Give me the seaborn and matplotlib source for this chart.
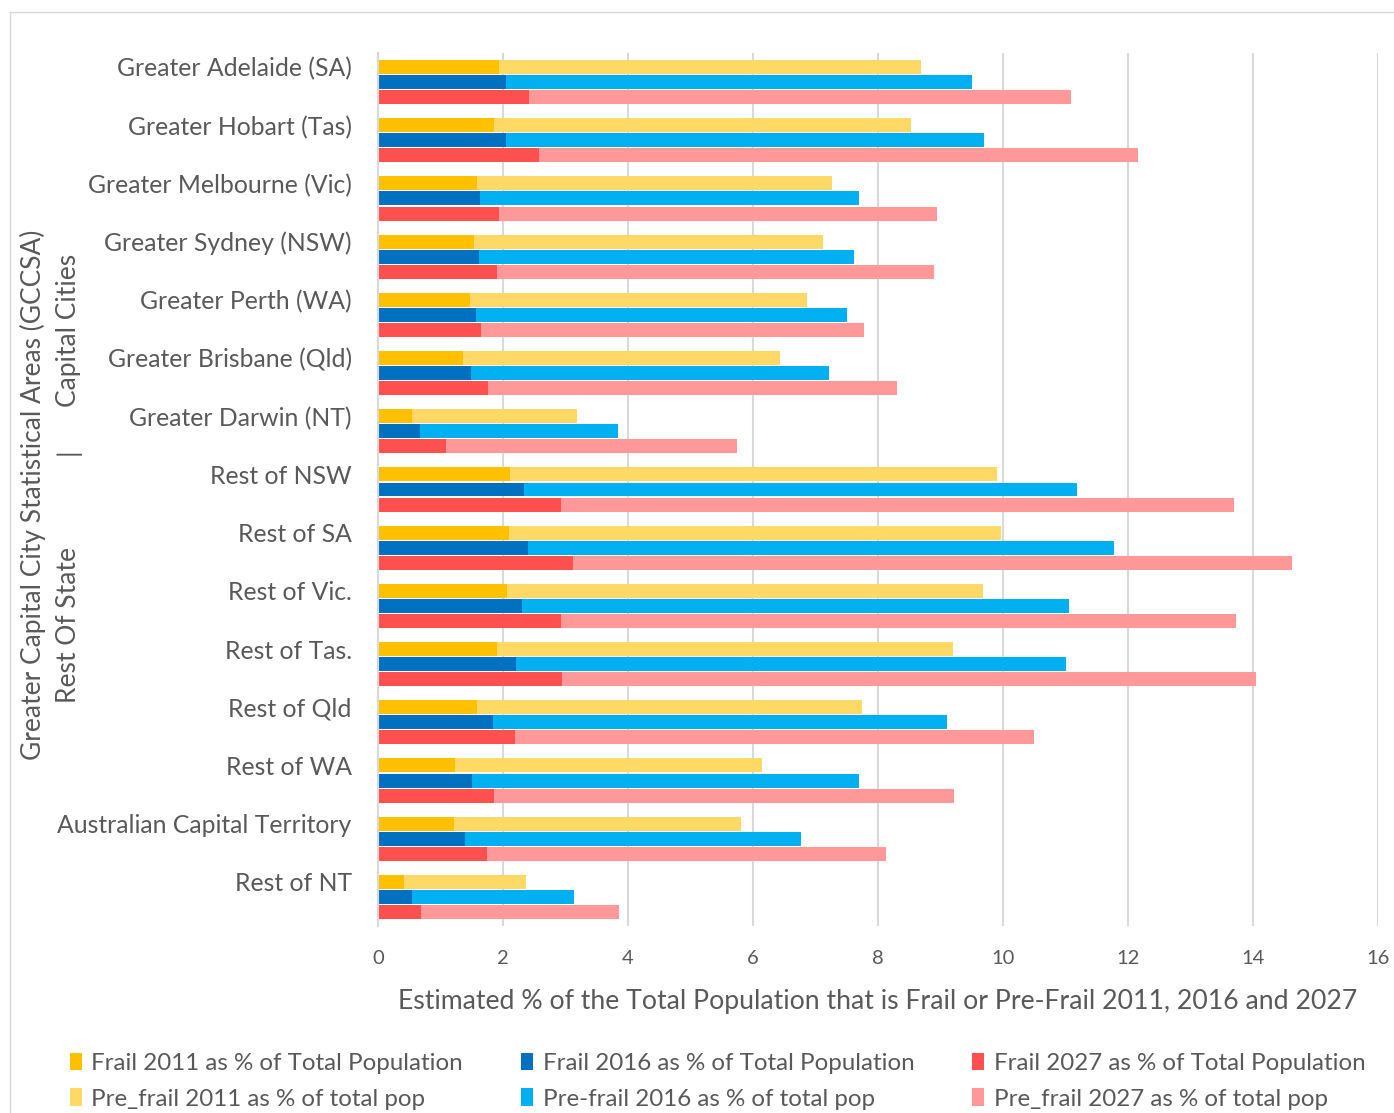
import numpy as np
import pandas as pd
import matplotlib.pyplot as plt
import matplotlib.transforms as mtransforms
import seaborn as sns
from matplotlib.patches import Patch
from matplotlib.lines import Line2D

sns.set_theme(style="white")
plt.rcParams['font.family'] = ['Lato', 'DejaVu Sans']

regions = ["Greater Adelaide (SA)", "Greater Hobart (Tas)", "Greater Melbourne (Vic)",
           "Greater Sydney (NSW)", "Greater Perth (WA)", "Greater Brisbane (Qld)",
           "Greater Darwin (NT)", "Rest of NSW", "Rest of SA", "Rest of Vic.",
           "Rest of Tas.", "Rest of Qld", "Rest of WA", "Australian Capital Territory",
           "Rest of NT"]

frail_2011 = [1.93, 1.86, 1.58, 1.54, 1.47, 1.36, 0.55, 2.11, 2.09, 2.07, 1.90, 1.58, 1.23, 1.22, 0.42]
prefrail_2011 = [6.75, 6.66, 5.69, 5.58, 5.40, 5.07, 2.63, 7.79, 7.88, 7.61, 7.30, 6.17, 4.92, 4.58, 1.94]
frail_2016 = [2.04, 2.04, 1.63, 1.62, 1.57, 1.48, 0.67, 2.34, 2.40, 2.30, 2.21, 1.84, 1.50, 1.39, 0.55]
prefrail_2016 = [7.46, 7.65, 6.06, 6.00, 5.94, 5.74, 3.17, 8.84, 9.37, 8.76, 8.80, 7.26, 6.19, 5.38, 2.59]
frail_2027 = [2.41, 2.58, 1.93, 1.90, 1.64, 1.76, 1.09, 2.93, 3.12, 2.93, 2.94, 2.19, 1.86, 1.74, 0.69]
prefrail_2027 = [8.68, 9.58, 7.02, 7.00, 6.13, 6.55, 4.66, 10.76, 11.50, 10.80, 11.10, 8.30, 7.35, 6.39, 3.17]

years = ["2011", "2016", "2027"]
frail_colors = ["#FFC000", "#0070C0", "#FF5050"]
pre_colors = ["#FFD966", "#00B0F0", "#FF9999"]
legend_labels = [
    "Frail 2011 as % of Total Population", "Pre_frail 2011 as % of total pop",
    "Frail 2016 as % of Total Population", "Pre-frail 2016 as % of total pop",
    "Frail 2027 as % of Total Population", "Pre_frail 2027 as % of total pop",
]

rows = []
for yr, fr, pf in zip(years, [frail_2011, frail_2016, frail_2027],
                      [prefrail_2011, prefrail_2016, prefrail_2027]):
    for reg, f, p in zip(regions, fr, pf):
        rows.append({"region": reg, "year": yr, "frail": f, "total": f + p})
df = pd.DataFrame(rows)

fig = plt.figure(figsize=(13.94, 11.13), dpi=100)
ax = fig.add_axes([0.2712, 0.168, 0.7174, 0.7844])

# pre-frail drawn as full length, frail drawn on top of it (stacked look)
for ycol, pal in [("total", pre_colors), ("frail", frail_colors)]:
    sns.barplot(data=df, y="region", x=ycol, hue="year", order=regions, hue_order=years,
                palette=pal, orient="h", width=0.775, gap=0.07, errorbar=None,
                legend=False, ax=ax, saturation=1, edgecolor="none")

ax.set_xlim(0, 16)
ax.set_ylim(14.5, -0.5)
ax.set_xticks(np.arange(0, 17, 2))
ax.xaxis.grid(True, color="#d9d9d9", linewidth=1.5)
ax.set_axisbelow(True)
for s in ["top", "right", "bottom"]:
    ax.spines[s].set_visible(False)
ax.spines["left"].set_color("#d9d9d9")
ax.spines["left"].set_linewidth(1.5)
ax.tick_params(axis="both", length=0, colors="#595959")
ax.tick_params(axis="y", labelsize=17.8, pad=19)
ax.tick_params(axis="x", labelsize=14.5, pad=17)
# category labels sit level with the top bar of each group
offset = mtransforms.ScaledTranslation(0, 15 / 100, fig.dpi_scale_trans)
for lbl in ax.get_yticklabels():
    lbl.set_transform(lbl.get_transform() + offset)
ax.set_ylabel("")
ax.set_xlabel("Estimated % of the Total Population that is Frail or Pre-Frail 2011, 2016 and 2027",
              fontsize=19.2, color="#595959", labelpad=16)

fig.text(0.0237, 0.555, "Greater Capital City Statistical Areas (GCCSA)", rotation=90,
         ha="center", va="center", fontsize=19, color="#595959")
fig.text(0.0488, 0.7035, "Capital Cities", rotation=90, ha="center", va="center",
         fontsize=19, color="#595959")
fig.text(0.0488, 0.594, "|", rotation=90, ha="center", va="center",
         fontsize=19, color="#595959")
fig.text(0.0488, 0.4385, "Rest Of State", rotation=90, ha="center", va="center",
         fontsize=19, color="#595959")

handle_colors = [frail_colors[0], pre_colors[0], frail_colors[1], pre_colors[1],
                 frail_colors[2], pre_colors[2]]
handles = [Patch(facecolor=c, edgecolor="none") for c in handle_colors]
leg = fig.legend(handles, legend_labels, ncol=3, loc="upper left",
                 bbox_to_anchor=(0.043, 0.063), frameon=False, fontsize=17.4,
                 handlelength=0.5, handleheight=0.75, handletextpad=0.4,
                 columnspacing=2.4, labelspacing=0.6, borderaxespad=0)
for t in leg.get_texts():
    t.set_color("#595959")

fig.add_artist(Line2D([10 / 1394, 1], [1 - 12 / 1113, 1 - 12 / 1113],
                      transform=fig.transFigure, color="#d9d9d9", linewidth=1))
fig.add_artist(Line2D([10 / 1394, 10 / 1394], [0, 1 - 12 / 1113],
                      transform=fig.transFigure, color="#d9d9d9", linewidth=1))

fig.savefig("out.png", dpi=100)
